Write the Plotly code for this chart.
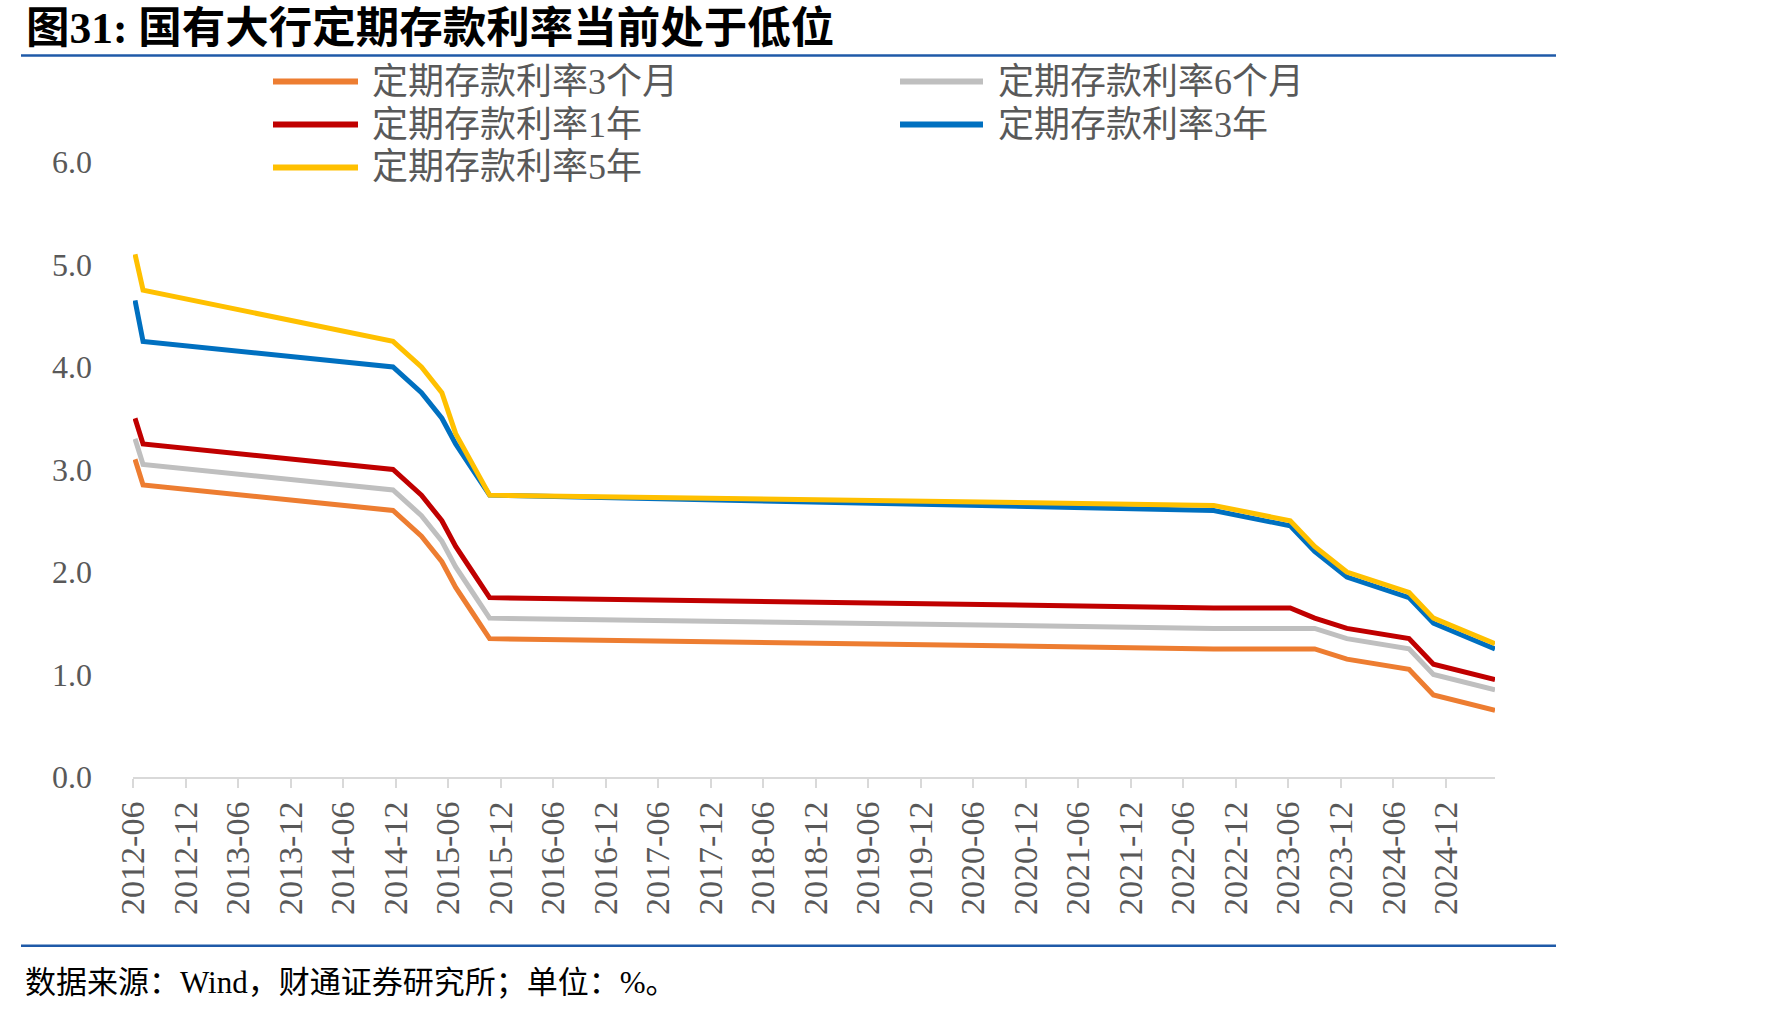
import plotly.graph_objects as go

# ---------------- data ----------------
dates = ["2012-06-08", "2012-07-06", "2014-11-22", "2015-03-01", "2015-05-11",
         "2015-06-28", "2015-08-26", "2015-10-24", "2022-09-15", "2023-06-08",
         "2023-09-01", "2023-12-22", "2024-07-25", "2024-10-18", "2025-05-20"]

rate_3m = [3.10, 2.85, 2.60, 2.35, 2.10, 1.85, 1.60, 1.35, 1.25, 1.25, 1.25, 1.15, 1.05, 0.80, 0.65]
rate_6m = [3.30, 3.05, 2.80, 2.55, 2.30, 2.05, 1.80, 1.55, 1.45, 1.45, 1.45, 1.35, 1.25, 1.00, 0.85]
rate_1y = [3.50, 3.25, 3.00, 2.75, 2.50, 2.25, 2.00, 1.75, 1.65, 1.65, 1.55, 1.45, 1.35, 1.10, 0.95]
rate_3y = [4.65, 4.25, 4.00, 3.75, 3.50, 3.25, 3.00, 2.75, 2.60, 2.45, 2.20, 1.95, 1.75, 1.50, 1.25]
rate_5y = [5.10, 4.75, 4.25, 4.00, 3.75, 3.35, 3.05, 2.75, 2.65, 2.50, 2.25, 2.00, 1.80, 1.55, 1.30]

series_names = ["定期存款利率3个月", "定期存款利率6个月", "定期存款利率1年",
                "定期存款利率3年", "定期存款利率5年"]
series_values = [rate_3m, rate_6m, rate_1y, rate_3y, rate_5y]
series_colors = ["#ED7D31", "#BFBFBF", "#C00000", "#0070C0", "#FFC000"]

title_text = "图31: 国有大行定期存款利率当前处于低位"
source_text = "数据来源：Wind，财通证券研究所；单位：%。"

# ---------------- layout geometry (pixels) ----------------
W, H = 1771, 1013
L, R, T, B = 133, 1495, 161.5, 777


def px(x):
    return (x - L) / (R - L)


def py(y):
    return (B - y) / (B - T)


SERIF_CJK = "Liberation Serif, Noto Sans CJK SC, serif"
GREY_TXT = "#595959"

fig = go.Figure()
for name, vals, col in zip(series_names, series_values, series_colors):
    fig.add_trace(go.Scatter(x=dates, y=vals, mode="lines", name=name,
                             line=dict(color=col, width=5), showlegend=False))

shapes = []
annotations = []

# title + rules
annotations.append(dict(text=title_text, xref="paper", yref="paper",
                        x=px(24), y=py(27), xanchor="left", yanchor="middle",
                        showarrow=False,
                        font=dict(family=SERIF_CJK, size=43.5, color="#000000", weight="bold")))
shapes.append(dict(type="line", xref="paper", yref="paper",
                   x0=px(21), x1=px(1556), y0=py(55), y1=py(55),
                   line=dict(color="#1F5AA8", width=2.5)))
shapes.append(dict(type="line", xref="paper", yref="paper",
                   x0=px(21), x1=px(1556), y0=py(946), y1=py(946),
                   line=dict(color="#1F5AA8", width=2.5)))
annotations.append(dict(text=source_text, xref="paper", yref="paper",
                        x=px(23), y=py(983), xanchor="left", yanchor="middle",
                        showarrow=False,
                        font=dict(family=SERIF_CJK, size=31, color="#000000")))

# manual legend (two columns, three rows)
leg_cols = [(273, 358, 370), (900, 983, 996)]
leg_rows = [81, 124, 167]
order = [(0, 0), (1, 0), (0, 1), (1, 1), (0, 2)]  # (col,row) per series
for (c, r), name, col in zip(order, series_names, series_colors):
    x0, x1, xt = leg_cols[c]
    y = leg_rows[r]
    shapes.append(dict(type="line", xref="paper", yref="paper",
                       x0=px(x0), x1=px(x1), y0=py(y), y1=py(y),
                       line=dict(color=col, width=6)))
    annotations.append(dict(text=name, xref="paper", yref="paper",
                            x=px(xt), y=py(y), xanchor="left", yanchor="middle",
                            showarrow=False,
                            font=dict(family=SERIF_CJK, size=36, color=GREY_TXT)))

fig.update_layout(
    width=W, height=H,
    margin=dict(l=L, r=W - R, t=T, b=H - B, pad=0),
    paper_bgcolor="white", plot_bgcolor="white",
    shapes=shapes, annotations=annotations,
    xaxis=dict(type="date", range=["2012-06-01", "2025-05-20"],
               tick0="2012-06-01", dtick="M6", tickformat="%Y-%m",
               tickangle=-90, ticks="outside", ticklen=9, tickwidth=2,
               tickcolor="#D9D9D9", showline=True, linecolor="#D9D9D9",
               linewidth=2, showgrid=False, zeroline=False,
               ticklabelstandoff=0,
               tickfont=dict(family="Liberation Serif", size=34, color=GREY_TXT)),
    yaxis=dict(range=[0, 6], dtick=1, tick0=0, tickformat=".1f",
               showgrid=False, zeroline=False, showline=False, ticks="",
               ticklabelstandoff=40,
               tickfont=dict(family="Liberation Serif", size=32, color=GREY_TXT)),
)

fig.write_html("out.html")
